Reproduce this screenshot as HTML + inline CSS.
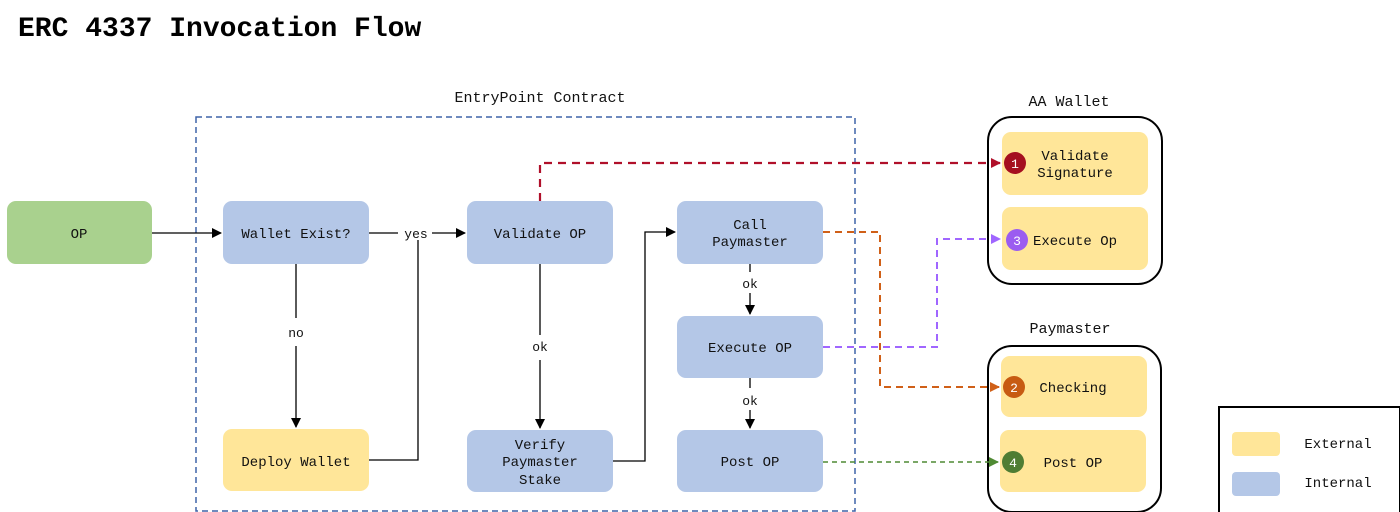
<!DOCTYPE html>
<html><head><style>
body{margin:0;background:#fff;width:1400px;height:512px;overflow:hidden;position:relative;font-family:"Liberation Mono",monospace;}
.t{position:absolute;font-size:14px;color:#111;text-align:center;white-space:nowrap;}
svg{position:absolute;left:0;top:0}
</style></head><body>
<svg width="1400" height="512" viewBox="0 0 1400 512" font-family="Liberation Mono, monospace">
<defs>
<marker id="a" markerWidth="10" markerHeight="10" refX="9" refY="5" orient="auto" markerUnits="userSpaceOnUse"><path d="M0,0 L10,5 L0,10z" fill="#000"/></marker>
<marker id="ar" markerWidth="10" markerHeight="10" refX="9" refY="5" orient="auto" markerUnits="userSpaceOnUse"><path d="M0,0 L10,5 L0,10z" fill="#b0102a"/></marker>
<marker id="ao" markerWidth="10" markerHeight="10" refX="9" refY="5" orient="auto" markerUnits="userSpaceOnUse"><path d="M0,0 L10,5 L0,10z" fill="#d06018"/></marker>
<marker id="ap" markerWidth="10" markerHeight="10" refX="9" refY="5" orient="auto" markerUnits="userSpaceOnUse"><path d="M0,0 L10,5 L0,10z" fill="#a066ff"/></marker>
<marker id="ag" markerWidth="10" markerHeight="10" refX="9" refY="5" orient="auto" markerUnits="userSpaceOnUse"><path d="M0,0 L10,5 L0,10z" fill="#4f8a33"/></marker>
</defs>
<text x="18" y="36" font-size="28" font-weight="bold" fill="#000">ERC 4337 Invocation Flow</text>
<text x="540" y="102" font-size="15" text-anchor="middle" fill="#111">EntryPoint Contract</text>
<text x="1069" y="106" font-size="15" text-anchor="middle" fill="#111">AA Wallet</text>
<text x="1070" y="333" font-size="15" text-anchor="middle" fill="#111">Paymaster</text>
<rect x="196" y="117" width="659" height="394" fill="none" stroke="#3f63a8" stroke-width="1.5" stroke-dasharray="6,4"/>
<rect x="988" y="117" width="174" height="167" rx="24" fill="none" stroke="#000" stroke-width="2"/>
<rect x="988" y="346" width="173" height="166" rx="24" fill="none" stroke="#000" stroke-width="2"/>
<rect x="1219" y="407" width="181" height="106" fill="none" stroke="#000" stroke-width="2"/>
<g>
<rect x="7" y="201" width="145" height="63" rx="9" fill="#a9d18e"/>
<rect x="223" y="201" width="146" height="63" rx="9" fill="#b4c7e7"/>
<rect x="467" y="201" width="146" height="63" rx="9" fill="#b4c7e7"/>
<rect x="677" y="201" width="146" height="63" rx="9" fill="#b4c7e7"/>
<rect x="677" y="316" width="146" height="62" rx="9" fill="#b4c7e7"/>
<rect x="677" y="430" width="146" height="62" rx="9" fill="#b4c7e7"/>
<rect x="467" y="430" width="146" height="62" rx="9" fill="#b4c7e7"/>
<rect x="223" y="429" width="146" height="62" rx="9" fill="#ffe699"/>
<rect x="1002" y="132" width="146" height="63" rx="9" fill="#ffe699"/>
<rect x="1002" y="207" width="146" height="63" rx="9" fill="#ffe699"/>
<rect x="1001" y="356" width="146" height="61" rx="9" fill="#ffe699"/>
<rect x="1000" y="430" width="146" height="62" rx="9" fill="#ffe699"/>
<rect x="1232" y="432" width="48" height="24" rx="4" fill="#ffe699"/>
<rect x="1232" y="472" width="48" height="24" rx="4" fill="#b4c7e7"/>
</g>
<g stroke="#000" stroke-width="1.3" fill="none">
<line x1="152" y1="233" x2="221" y2="233" marker-end="url(#a)"/>
<line x1="369" y1="233" x2="398" y2="233"/>
<line x1="432" y1="233" x2="465" y2="233" marker-end="url(#a)"/>
<polyline points="369,460 418,460 418,240"/>
<line x1="296" y1="264" x2="296" y2="318"/>
<line x1="296" y1="346" x2="296" y2="427" marker-end="url(#a)"/>
<line x1="540" y1="264" x2="540" y2="335"/>
<line x1="540" y1="360" x2="540" y2="428" marker-end="url(#a)"/>
<polyline points="613,461 645,461 645,232 675,232" marker-end="url(#a)"/>
<line x1="750" y1="264" x2="750" y2="272"/>
<line x1="750" y1="293" x2="750" y2="314" marker-end="url(#a)"/>
<line x1="750" y1="378" x2="750" y2="388"/>
<line x1="750" y1="410" x2="750" y2="428" marker-end="url(#a)"/>
</g>
<polyline points="540,201 540,163 1000,163" fill="none" stroke="#b0102a" stroke-width="2.2" stroke-dasharray="8,6" marker-end="url(#ar)"/>
<polyline points="823,232 880,232 880,387 999,387" fill="none" stroke="#d06018" stroke-width="2" stroke-dasharray="7,5" marker-end="url(#ao)"/>
<polyline points="823,347 937,347 937,239 1000,239" fill="none" stroke="#a066ff" stroke-width="2" stroke-dasharray="7,5" marker-end="url(#ap)"/>
<polyline points="823,462 998,462" fill="none" stroke="#4f8a33" stroke-width="1.6" stroke-dasharray="5,4" marker-end="url(#ag)"/>
<g font-size="13" text-anchor="middle" fill="#111">
<text x="416" y="238">yes</text><text x="296" y="337">no</text><text x="540" y="351">ok</text>
<text x="750" y="288">ok</text><text x="750" y="405">ok</text>
</g>
<g font-size="14" text-anchor="middle" fill="#111">
<text x="79" y="238">OP</text>
<text x="296" y="238">Wallet Exist?</text>
<text x="540" y="238">Validate OP</text>
<text x="750" y="229">Call</text><text x="750" y="246">Paymaster</text>
<text x="750" y="352">Execute OP</text>
<text x="750" y="466">Post OP</text>
<text x="540" y="449">Verify</text><text x="540" y="466">Paymaster</text><text x="540" y="484">Stake</text>
<text x="296" y="466">Deploy Wallet</text>
<text x="1075" y="160">Validate</text><text x="1075" y="177">Signature</text>
<text x="1075" y="245">Execute Op</text>
<text x="1073" y="392">Checking</text>
<text x="1073" y="467">Post OP</text>
<text x="1338" y="448">External</text>
<text x="1338" y="487">Internal</text>
</g>
<g font-size="13" text-anchor="middle" fill="#fff">
<circle cx="1015" cy="163" r="11" fill="#a50f1f"/><text x="1015" y="168">1</text>
<circle cx="1017" cy="240" r="11" fill="#9b5cf0"/><text x="1017" y="245">3</text>
<circle cx="1014" cy="387" r="11" fill="#c75b12"/><text x="1014" y="392">2</text>
<circle cx="1013" cy="462" r="11" fill="#4f7d33"/><text x="1013" y="467">4</text>
</g>
</svg>
</body></html>
